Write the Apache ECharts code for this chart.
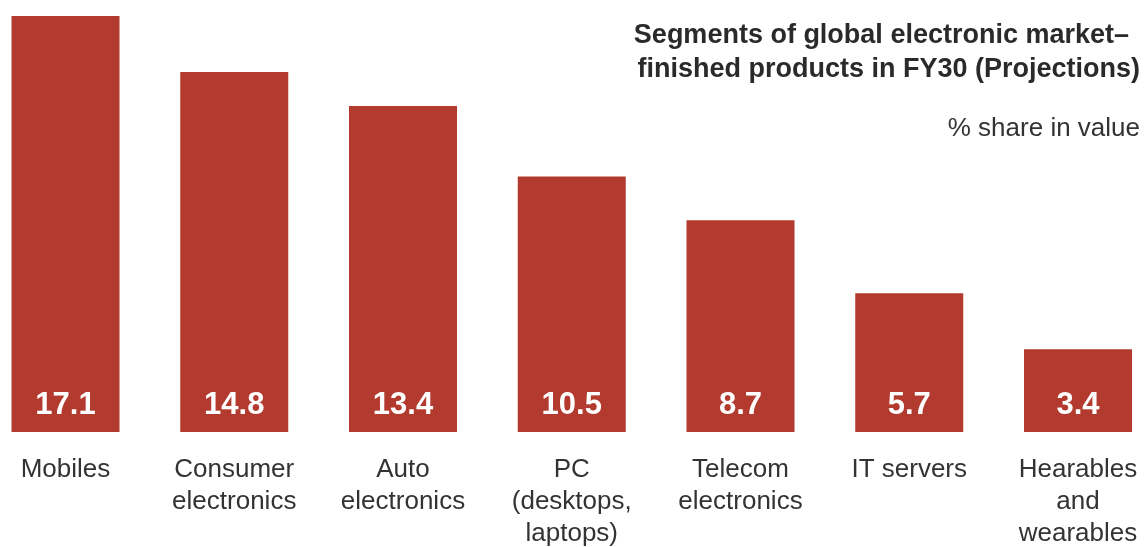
<!DOCTYPE html>
<html>
<head>
<meta charset="utf-8">
<script src="https://cdn.jsdelivr.net/npm/echarts@6/dist/echarts.min.js"></script>
<style>
html,body{margin:0;padding:0;background:#fff;}
#chart{width:1144px;height:547px;}
</style>
</head>
<body>
<div id="chart"></div>
<script>
const categories = ['Mobiles', 'Consumer\nelectronics', 'Auto\nelectronics', 'PC\n(desktops,\nlaptops)', 'Telecom\nelectronics', 'IT servers', 'Hearables\nand\nwearables'];
const shares = [17.1, 14.8, 13.4, 10.5, 8.7, 5.7, 3.4];
const titleLine1 = 'Segments of global electronic market–';
const titleLine2 = 'finished products in FY30 (Projections)';
const unitLabel = '% share in value';

const FONT = '"Liberation Sans", Arial, sans-serif';
const chart = echarts.init(document.getElementById('chart'), null, {renderer: 'canvas'});
chart.setOption({
  backgroundColor: '#ffffff',
  animation: false,
  title: [
    {text: titleLine1, right: 15, top: 22, padding: 0,
     textStyle: {fontFamily: FONT, fontSize: 27, fontWeight: 'bold', color: '#2a2a2a'}},
    {text: titleLine2, right: 4, top: 56, padding: 0,
     textStyle: {fontFamily: FONT, fontSize: 27, fontWeight: 'bold', color: '#2a2a2a'}},
    {text: unitLabel, right: 4, top: 116, padding: 0,
     textStyle: {fontFamily: FONT, fontSize: 26, fontWeight: 'normal', color: '#333333'}}
  ],
  grid: {left: 65.5, right: 66, top: 16, bottom: 115, containLabel: false, outerBoundsMode: 'none'},
  xAxis: {
    type: 'category',
    data: categories,
    boundaryGap: false,
    axisLine: {show: false},
    axisTick: {show: false},
    axisLabel: {interval: 0, margin: 22, fontFamily: FONT, fontSize: 26, lineHeight: 32, color: '#333333', align: 'center', verticalAlign: 'top'}
  },
  yAxis: {
    type: 'value', min: 0, max: 17.1,
    show: false,
    splitLine: {show: false}
  },
  series: [{
    type: 'bar',
    data: shares,
    barWidth: 108,
    clip: false,
    itemStyle: {color: '#b23a2e'},
    label: {
      show: true, position: 'insideBottom', distance: 11,
      fontFamily: FONT, fontSize: 31, fontWeight: 'bold', color: '#ffffff',
      formatter: p => p.value.toFixed(1)
    }
  }]
});
</script>
</body>
</html>
